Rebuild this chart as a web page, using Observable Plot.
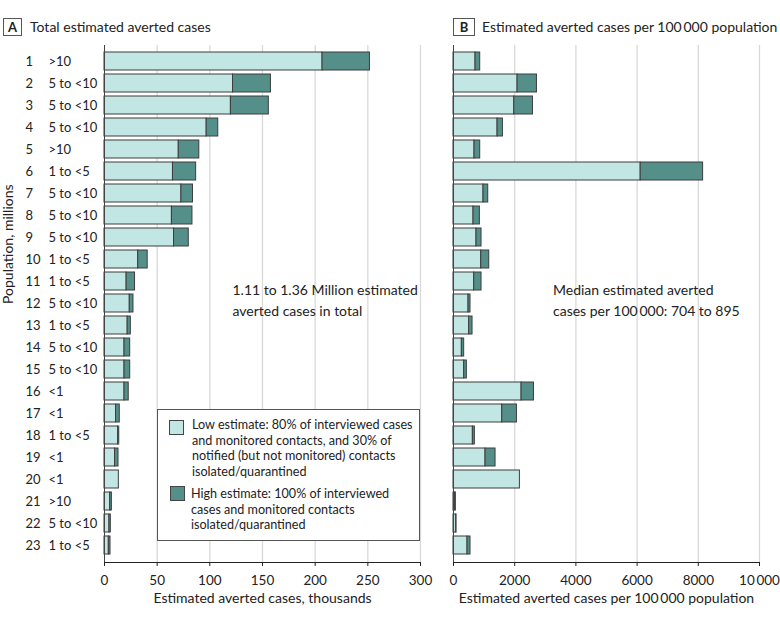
<!DOCTYPE html>
<html><head><meta charset="utf-8">
<script src="https://cdn.jsdelivr.net/npm/d3@7"></script>
<script src="https://cdn.jsdelivr.net/npm/@observablehq/plot@0.6"></script>
<style>
body{margin:0;background:#fff;}
#chart{position:relative;width:780px;height:620px;font-family:Lato,sans-serif;color:#222;overflow:hidden;}
#chart svg{position:absolute;top:0;}
.pbox{position:absolute;top:18px;height:18px;border:1px solid #555;box-sizing:border-box;font-weight:bold;font-size:13px;line-height:16px;text-align:center;}
.ptitle{position:absolute;top:18px;line-height:18px;font-size:14px;white-space:nowrap;}
#legend{position:absolute;left:157px;top:409px;width:263px;height:132px;border:1px solid #555;background:#fff;box-sizing:border-box;z-index:2;}
.sw{position:absolute;width:15px;height:15px;border:1px solid #444;box-sizing:border-box;}
.lt{position:absolute;font-size:12.6px;line-height:15.5px;white-space:nowrap;}
</style>
</head><body>
<div id="chart">
  <div class="pbox" style="left:3px;width:19px;">A</div>
  <div class="ptitle" style="left:30px;">Total estimated averted cases</div>
  <div class="pbox" style="left:453px;width:22px;">B</div>
  <div class="ptitle" style="left:482px;">Estimated averted cases per 100&#8201;000 population</div>
  <div id="legend">
    <div class="sw" id="sw1" style="left:11px;top:10px;"></div>
    <div class="lt" id="lt1" style="left:34px;top:7px;"></div>
    <div class="sw" id="sw2" style="left:12px;top:76px;"></div>
    <div class="lt" id="lt2" style="left:33px;top:76px;"></div>
  </div>
</div>
<script>
// ---- data ----
const rowIds = ["1","2","3","4","5","6","7","8","9","10","11","12","13","14","15","16","17","18","19","20","21","22","23"];
const popCats = [">10","5 to <10","5 to <10","5 to <10",">10","1 to <5","5 to <10","5 to <10","5 to <10","1 to <5","1 to <5","5 to <10","1 to <5","5 to <10","5 to <10","<1","<1","1 to <5","<1","<1",">10","5 to <10","1 to <5"];
// Panel A: total estimated averted cases, thousands
const lowA  = [207, 122, 120, 97, 70.5, 65, 73, 64, 66, 32, 21, 24, 22, 19, 19, 19, 11, 13, 10, 13.6, 5.4, 4.7, 4.1];
const highA = [252, 158, 156, 108, 90, 87, 84, 83.5, 80, 41, 29, 27.5, 25, 24.4, 24.4, 23, 14.5, 14, 13.3, 13.6, 7, 6, 5.7];
// Panel B: estimated averted cases per 100 000 population
const lowB  = [720, 2094, 1986, 1440, 687, 6117, 981, 654, 752, 906, 677, 491, 513, 273, 349, 2225, 1593, 633, 1047, 2170, 56, 88, 458];
const highB = [873, 2727, 2597, 1615, 873, 8157, 1135, 862, 916, 1168, 916, 556, 622, 349, 436, 2629, 2073, 698, 1374, 2170, 77, 98, 556];
const ticksA = [0, 50, 100, 150, 200, 250, 300];
const ticksB = [0, 2000, 4000, 6000, 8000, 10000];
const legendLabels = [
  "Low estimate: 80% of interviewed cases\nand monitored contacts, and 30% of\nnotified (but not monitored) contacts\nisolated/quarantined",
  "High estimate: 100% of interviewed\ncases and monitored contacts\nisolated/quarantined"
];
const noteA = "1.11 to 1.36 Million estimated\naverted cases in total";
const noteB = "Median estimated averted\ncases per 100\u2009000: 704 to 895";
const titleXA = "Estimated averted cases, thousands";
const titleXB = "Estimated averted cases per 100\u2009000 population";
const titleY = "Population, millions";

// ---- style ----
const LIGHT = "#c2e6e3", DARK = "#558f8a", EDGE = "#3d3d3d", GRID = "#d9d9d9", AXIS = "#444";

const rows = rowIds.map((id, i) => ({id, pop: popCats[i], lowA: lowA[i], highA: highA[i], lowB: lowB[i], highB: highB[i]}));
const fmt = d => d >= 10000 ? d3.format(",")(d).replace(/,/g, "\u2009") : String(d);

function panel({width, marginLeft, marginRight, domain, ticks, low, high, note, noteDx, xTitle, rowLabels}) {
  const marks = [
    Plot.ruleX(ticks.filter(d => d > 0), {stroke: GRID, strokeWidth: 1.3}),
    Plot.barX(rows, {y: "id", x1: 0, x2: low, fill: LIGHT, stroke: EDGE, strokeWidth: 1}),
    Plot.barX(rows.filter(r => r[high] > r[low]), {y: "id", x1: low, x2: high, fill: DARK, stroke: EDGE, strokeWidth: 1}),
    Plot.ruleX([0], {stroke: AXIS}),
    Plot.text([note], {frameAnchor: "top-left", dx: noteDx, dy: 253, lineAnchor: "middle", textAnchor: "start", lineHeight: 1.5, fontSize: 14, fill: "#222"}),
    Plot.text([xTitle], {frameAnchor: "bottom", dy: 40, fontSize: 14, fill: "#222"})
  ];
  if (rowLabels) {
    marks.push(
      Plot.text(rows, {y: "id", text: "id", frameAnchor: "left", dx: -79, textAnchor: "start", fontSize: 13, fill: "#222"}),
      Plot.text(rows, {y: "id", text: "pop", frameAnchor: "left", dx: -56, textAnchor: "start", fontSize: 13, fill: "#222"}),
      Plot.text([titleY], {frameAnchor: "left", dx: -96, rotate: -90, fontSize: 14, fill: "#222"})
    );
  }
  return Plot.plot({
    width, height: 620,
    marginTop: 45, marginBottom: 58, marginLeft, marginRight,
    style: {fontFamily: "Lato, sans-serif", fontSize: "13.5px", color: "#222", background: "transparent", overflow: "visible"},
    x: {domain, ticks, tickFormat: fmt, tickSize: 4, tickPadding: 9, label: null, line: true},
    y: {domain: rowIds, axis: null, paddingInner: 0.18, paddingOuter: 0.09},
    marks
  });
}

const chart = document.getElementById("chart");
const svgA = panel({width: 440, marginLeft: 104, marginRight: 20, domain: [0, 300], ticks: ticksA, low: "lowA", high: "highA", note: noteA, noteDx: 128, xTitle: titleXA, rowLabels: true});
svgA.style.left = "0px";
chart.insertBefore(svgA, chart.firstChild);
const svgB = panel({width: 340, marginLeft: 13, marginRight: 21, domain: [0, 10000], ticks: ticksB, low: "lowB", high: "highB", note: noteB, noteDx: 99.5, xTitle: titleXB, rowLabels: false});
svgB.style.left = "440px";
chart.insertBefore(svgB, chart.firstChild);

document.getElementById("sw1").style.background = LIGHT;
document.getElementById("sw2").style.background = DARK;
document.getElementById("lt1").innerHTML = legendLabels[0].split("\n").join("<br>");
document.getElementById("lt2").innerHTML = legendLabels[1].split("\n").join("<br>");
</script>
</body></html>
